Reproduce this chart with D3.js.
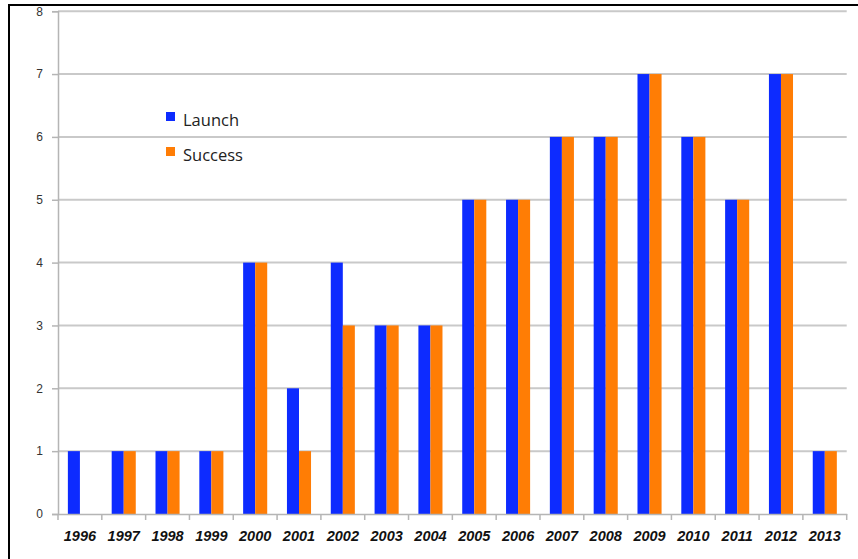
<!DOCTYPE html>
<html>
<head>
<meta charset="utf-8">
<script src="https://cdn.jsdelivr.net/npm/d3@7/dist/d3.min.js"></script>
<style>
  html, body { margin: 0; padding: 0; background: #fff; }
  svg { display: block; }
</style>
</head>
<body>
<svg id="chart" width="858" height="559"></svg>
<script>
// Yearly launch and success counts
const years = ["1996","1997","1998","1999","2000","2001","2002","2003","2004",
               "2005","2006","2007","2008","2009","2010","2011","2012","2013"];
const launch  = [1,1,1,1,4,2,4,3,3,5,5,6,6,7,6,5,7,1];
const success = [0,1,1,1,4,1,3,3,3,5,5,6,6,7,6,5,7,1];
const seriesNames = ["Launch", "Success"];
const seriesColors = ["#0d2bff", "#ff7d05"];
const yTicks = [0,1,2,3,4,5,6,7,8];

const svg = d3.select("#chart");
const W = 858, H = 559;
const plot = { left: 58, right: 846.7, top: 11.2, bottom: 514 };

// outer frame
svg.append("line").attr("x1", 8).attr("x2", W).attr("y1", 5).attr("y2", 5)
  .attr("stroke", "#000").attr("stroke-width", 2);
svg.append("line").attr("x1", 9).attr("x2", 9).attr("y1", 4).attr("y2", H)
  .attr("stroke", "#000").attr("stroke-width", 2);

const x = d3.scaleBand().domain(years).range([plot.left, plot.right]).paddingInner(0).paddingOuter(0);
const xs = d3.scaleBand().domain(seriesNames).range([0, x.bandwidth()]).paddingInner(0).paddingOuter(0.82);
const y = d3.scaleLinear().domain([0, 8]).range([plot.bottom, plot.top]);

// horizontal gridlines
svg.append("g").selectAll("line").data(yTicks.filter(d => d > 0)).join("line")
  .attr("x1", plot.left).attr("x2", plot.right)
  .attr("y1", d => y(d)).attr("y2", d => y(d))
  .attr("stroke", "#c9c9c9").attr("stroke-width", 2);

// y axis
const yAxis = svg.append("g").attr("transform", `translate(${plot.left},0)`)
  .call(d3.axisLeft(y).tickValues(yTicks).tickSize(6).tickPadding(9).tickFormat(d3.format("d")));
yAxis.select(".domain").attr("stroke", "#b5b5b5").attr("stroke-width", 1.5);
yAxis.selectAll(".tick line").attr("stroke", "#b5b5b5").attr("stroke-width", 1.5);
yAxis.selectAll("text").attr("fill", "#333").style("font-family", "'Liberation Sans', Arial, sans-serif")
  .style("font-size", "12px");

// bars
const groups = svg.append("g").selectAll("g").data(years).join("g")
  .attr("transform", d => `translate(${x(d)},0)`);
groups.selectAll("rect").data((d, i) => [
    { s: "Launch", v: launch[i], c: seriesColors[0] },
    { s: "Success", v: success[i], c: seriesColors[1] }
  ]).join("rect")
  .attr("x", d => xs(d.s))
  .attr("width", xs.bandwidth())
  .attr("y", d => y(d.v))
  .attr("height", d => y(0) - y(d.v))
  .attr("fill", d => d.c);

// x axis
const xAxis = svg.append("g").attr("transform", `translate(0,${plot.bottom})`)
  .call(d3.axisBottom(x).tickSize(0).tickPadding(17));
xAxis.select(".domain").attr("stroke", "#b5b5b5").attr("stroke-width", 1.5);
xAxis.selectAll("text").attr("fill", "#111")
  .attr("font-family", "'Liberation Sans', Arial, sans-serif")
  .attr("font-size", 14.5).attr("font-style", "italic").attr("font-weight", "bold");
// category boundary ticks
svg.append("g").selectAll("line").data(years.concat(["end"])).join("line")
  .attr("x1", d => d === "end" ? plot.right : x(d))
  .attr("x2", d => d === "end" ? plot.right : x(d))
  .attr("y1", plot.bottom).attr("y2", plot.bottom + 6)
  .attr("stroke", "#b5b5b5").attr("stroke-width", 1.5);

// legend
const legend = svg.append("g").attr("transform", "translate(166,112)");
seriesNames.forEach((name, i) => {
  const g = legend.append("g").attr("transform", `translate(0,${i * 35})`);
  g.append("rect").attr("width", 9).attr("height", 9).attr("fill", seriesColors[i]);
  g.append("text").attr("x", 17).attr("y", 14).text(name)
    .attr("fill", "#222").style("font-family", "'Open Sans', 'Liberation Sans', sans-serif")
    .style("font-size", "16.5px");
});
</script>
</body>
</html>
